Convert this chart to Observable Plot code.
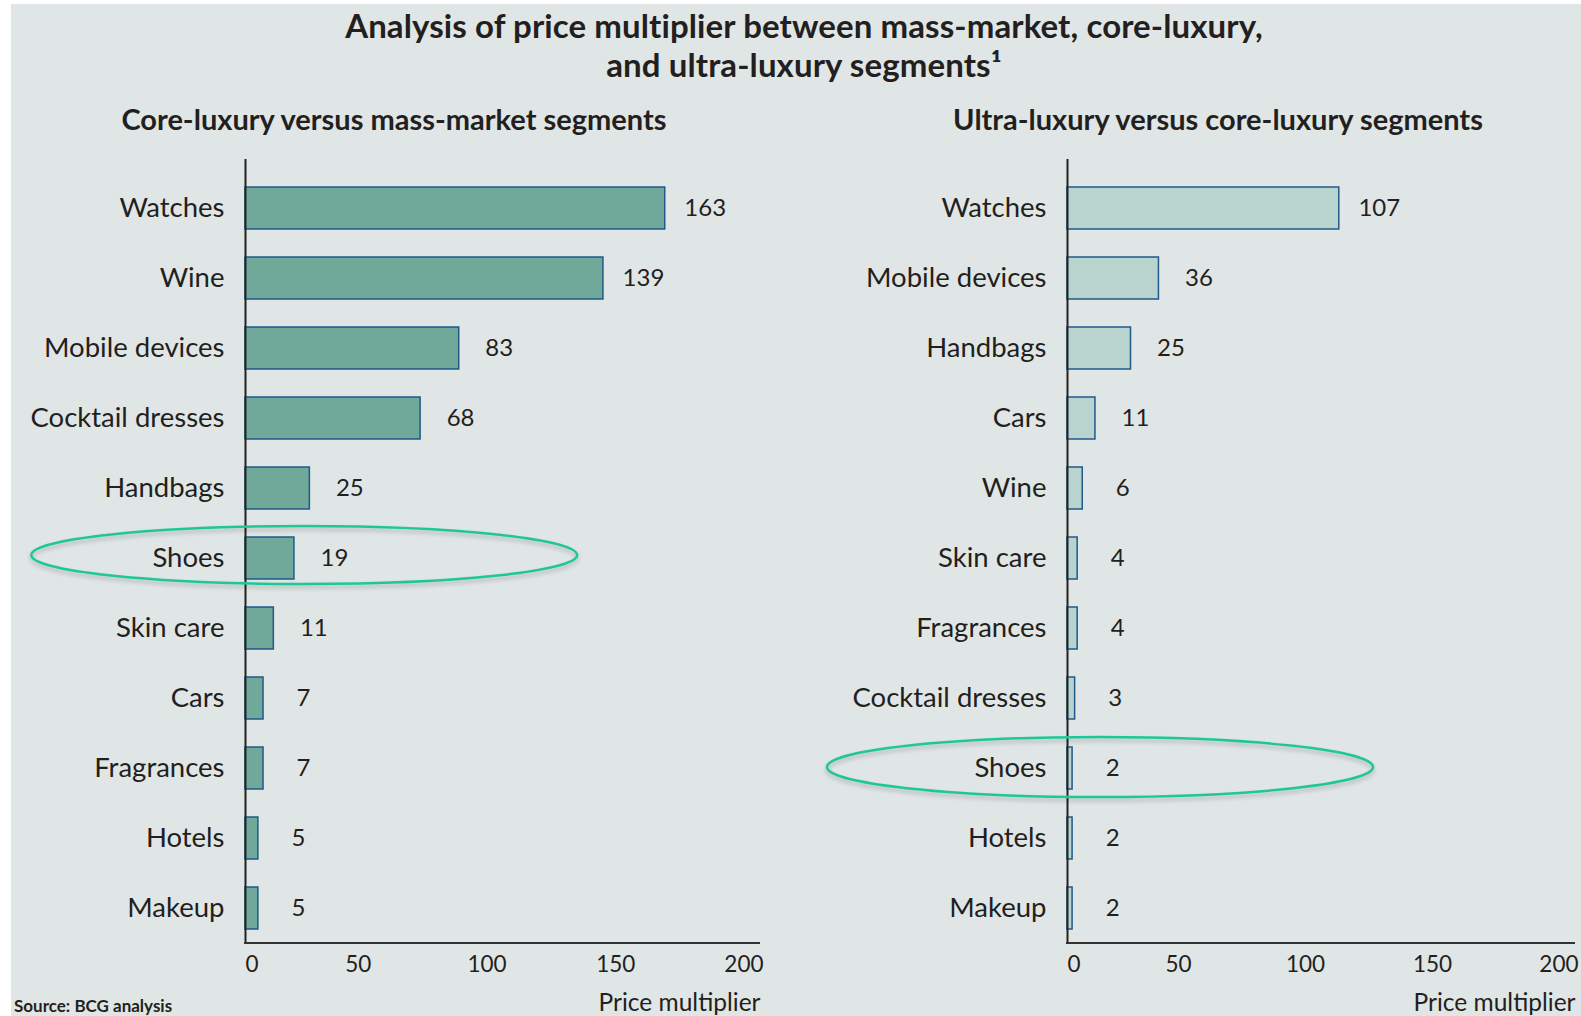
<!DOCTYPE html>
<html>
<head>
<meta charset="utf-8">
<script src="https://cdn.jsdelivr.net/npm/d3@7"></script>
<script src="https://cdn.jsdelivr.net/npm/@observablehq/plot@0.6"></script>
<style>
  html, body { margin: 0; padding: 0; width: 1581px; height: 1016px; overflow: hidden; background: #ffffff; }
  #bg { position: absolute; left: 11px; top: 4px; width: 1570px; height: 1012px; background: #e0e6e5; }
  .txt { position: absolute; font-family: Lato, "Liberation Sans", sans-serif; color: #231f20; white-space: nowrap; }
  #title { left: 0; width: 1608px; top: 6px; text-align: center; font-size: 33px; font-weight: 700; line-height: 39px; letter-spacing: 0.1px; }
  .sub { top: 101px; font-size: 29px; font-weight: 700; transform: translateX(-50%); }
  #source { left: 14px; top: 996px; font-size: 17px; line-height: 20px; font-weight: 700; }
  .panel { position: absolute; top: 140px; }
</style>
</head>
<body>
<div id="bg"></div>
<div id="title" class="txt">Analysis of price multiplier between mass-market, core-luxury,<br>and ultra-luxury segments¹</div>
<div class="txt sub" style="left:394px">Core-luxury versus mass-market segments</div>
<div class="txt sub" style="left:1218px">Ultra-luxury versus core-luxury segments</div>
<div id="left" class="panel" style="left:0px"></div>
<div id="right" class="panel" style="left:790px"></div>
<div id="source" class="txt">Source: BCG analysis</div>
<script>
// ---- data ----
const leftCategories = ["Watches", "Wine", "Mobile devices", "Cocktail dresses", "Handbags", "Shoes", "Skin care", "Cars", "Fragrances", "Hotels", "Makeup"];
const leftValues = [163, 139, 83, 68, 25, 19, 11, 7, 7, 5, 5];
const rightCategories = ["Watches", "Mobile devices", "Handbags", "Cars", "Wine", "Skin care", "Fragrances", "Cocktail dresses", "Shoes", "Hotels", "Makeup"];
const rightValues = [107, 36, 25, 11, 6, 4, 4, 3, 2, 2, 2];
const xTicks = [0, 50, 100, 150, 200];
const axisLabel = "Price multiplier";
const highlighted = "Shoes";

const ink = "#231f20";
const font = "Lato, 'Liberation Sans', sans-serif";

function panel({cats, vals, fill, width, marginLeft, marginRight, ell}) {
  const data = cats.map((c, i) => ({cat: c, val: vals[i]}));
  const first = xTicks.slice(0, 1), mid = xTicks.slice(1, -1), last = xTicks.slice(-1);
  return Plot.plot({
    width, height: 876,
    marginTop: 19, marginBottom: 73, marginLeft, marginRight,
    style: {background: "transparent", fontFamily: font, color: ink, overflow: "visible"},
    x: {domain: [xTicks[0], xTicks[xTicks.length - 1]], axis: null},
    y: {domain: cats, axis: null, insetTop: 13, paddingInner: 0.4, paddingOuter: 0.2},
    marks: [
      Plot.barX(data, {x: "val", y: "cat", fill, stroke: "#1f5a8a", strokeWidth: 1.5}),
      Plot.ruleX([0], {stroke: "#222", strokeWidth: 2}),
      (index, scales, values, dims) => {
        const y = dims.height - dims.marginBottom;
        return d3.create("svg:line")
          .attr("x1", scales.x(xTicks[0]) - 1).attr("x2", scales.x(xTicks[xTicks.length - 1]))
          .attr("y1", y).attr("y2", y)
          .attr("stroke", "#333").attr("stroke-width", 2).node();
      },
      Plot.axisY({tickSize: 0, tickPadding: 21, fontSize: 27.5, label: null, fill: ink}),
      Plot.text(data, {x: "val", y: "cat", text: d => String(d.val), textAnchor: "middle", dx: 40, fontSize: 24, fill: ink}),
      Plot.axisX(first, {tickSize: 0, tickPadding: 13, fontSize: 22.5, textAnchor: "start", label: null, fill: ink}),
      Plot.axisX(mid, {tickSize: 0, tickPadding: 13, fontSize: 22.5, dx: -16, label: null, fill: ink}),
      Plot.axisX(last, {tickSize: 0, tickPadding: 13, fontSize: 22.5, textAnchor: "end", dx: 3, label: null, fill: ink}),
      Plot.text([axisLabel], {frameAnchor: "bottom-right", textAnchor: "end", dy: 67, fontSize: 24.5, fill: ink}),
      (index, scales, values, dims) => {
        const bw = typeof scales.y.bandwidth === "function" ? scales.y.bandwidth() : 0;
        const cy = scales.y(highlighted) + bw / 2;
        const cx = scales.x(ell.cx);
        const rx = scales.x(ell.cx + ell.rx) - cx;
        return d3.create("svg:ellipse")
          .attr("cx", cx).attr("cy", cy + ell.dy).attr("rx", rx).attr("ry", ell.ry)
          .attr("fill", "none").attr("stroke", "#1ec896").attr("stroke-width", 2.5)
          .style("filter", "drop-shadow(0px 3px 2px rgba(0,0,0,0.22))").node();
      }
    ]
  });
}

document.getElementById("left").append(panel({
  cats: leftCategories, vals: leftValues, fill: "#70a99a",
  width: 790, marginLeft: 245, marginRight: 30,
  ell: {cx: 23, rx: 106, ry: 29, dy: -3}
}));
document.getElementById("right").append(panel({
  cats: rightCategories, vals: rightValues, fill: "#b9d4cf",
  width: 791, marginLeft: 277, marginRight: 6,
  ell: {cx: 13, rx: 107.5, ry: 30, dy: -1}
}));
</script>
</body>
</html>
